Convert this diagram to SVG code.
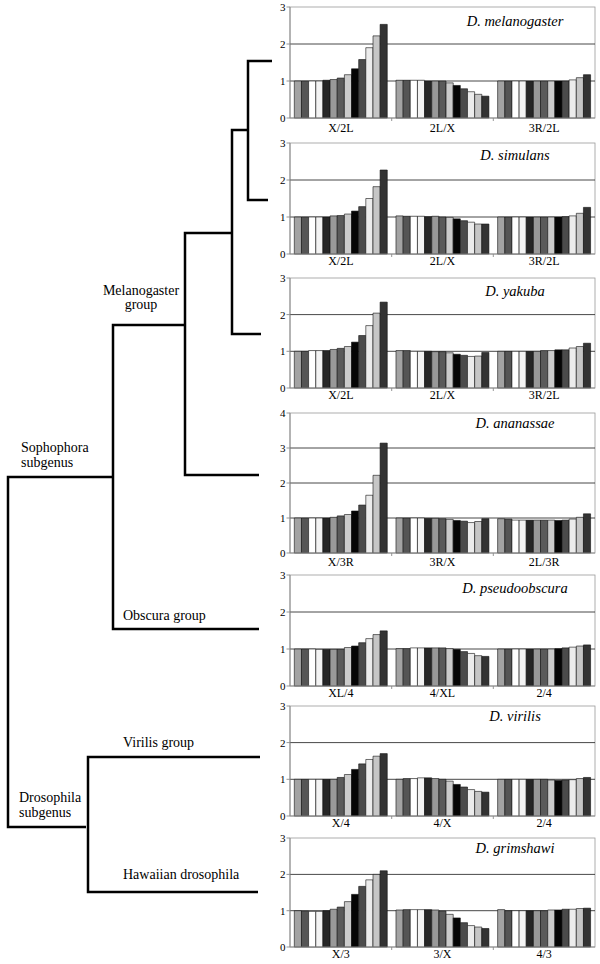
<svg xmlns="http://www.w3.org/2000/svg" width="600" height="964" viewBox="0 0 600 964" font-family="'Liberation Serif', 'DejaVu Serif', 'Times New Roman', serif">
<style>
text{font-family:"Liberation Serif","DejaVu Serif","Times New Roman",serif;fill:#000}
.lbl{font-size:14px}
.tick{font-size:11px;text-anchor:end}
.cat{font-size:12px;text-anchor:middle}
.title{font-size:14.5px;font-style:italic;text-anchor:middle}
.tree{fill:none;stroke:#000;stroke-width:2.5;stroke-linejoin:miter;stroke-linecap:butt}
.box{fill:#fff;stroke:#9a9a9a;stroke-width:0.8}
.grid{fill:none;stroke:#333;stroke-width:0.9}
.axis{fill:none;stroke:#8a8a8a;stroke-width:0.9}
.bars rect{stroke:#111;stroke-width:0.6;vector-effect:non-scaling-stroke}
.f1{fill:#a3a3a3}.f2{fill:#555}.f3{fill:#fff}.f4{fill:#f3f3f3}.f5{fill:#262626}.f6{fill:#999}.f7{fill:#5a5a5a}.f8{fill:#cbcbcb}.f9{fill:#050505}.f10{fill:#4b4b4b}.f11{fill:#ececec}.f12{fill:#c6c6c6}.f13{fill:#333}
</style>

<g id="connectors">
<path class="tree" d="M272,61H248V200H268"/>
<path class="tree" d="M248,130H232V334H261"/>
<path class="tree" d="M232,233H185V475H259"/>
<path class="tree" d="M185,325H113V629H259"/>
<path class="tree" d="M113,477H8V827H86"/>
<path class="tree" d="M260,757H88V892H258"/>
</g>

<g id="node-melanogaster-group"><text class="lbl" x="141" y="295" text-anchor="middle">Melanogaster</text><text class="lbl" x="141" y="309" text-anchor="middle">group</text></g>
<g id="node-sophophora"><text class="lbl" x="21" y="452">Sophophora</text><text class="lbl" x="21" y="467">subgenus</text></g>
<g id="node-obscura"><text class="lbl" x="123" y="620">Obscura group</text></g>
<g id="node-virilis-group"><text class="lbl" x="123" y="747">Virilis group</text></g>
<g id="node-drosophila"><text class="lbl" x="19" y="802">Drosophila</text><text class="lbl" x="19" y="817">subgenus</text></g>
<g id="node-hawaiian"><text class="lbl" x="123" y="879">Hawaiian drosophila</text></g>

<!-- Panel 1 -->
<g id="panel-melanogaster">
<rect class="box" x="290" y="7" width="305" height="111"/>
<path class="grid" d="M290,81H595M290,44H595"/>
<g class="bars" transform="translate(290,118) scale(1,-37)">
<g>
<rect class="f1" x="4.3" width="7.15" height="1"/><rect class="f2" x="11.5" width="7.15" height="1"/><rect class="f3" x="18.6" width="7.15" height="1"/><rect class="f4" x="25.8" width="7.15" height="1"/><rect class="f5" x="32.9" width="7.15" height="1.02"/><rect class="f6" x="40.1" width="7.15" height="1.04"/><rect class="f7" x="47.2" width="7.15" height="1.08"/><rect class="f8" x="54.4" width="7.15" height="1.17"/><rect class="f9" x="61.5" width="7.15" height="1.33"/><rect class="f10" x="68.7" width="7.15" height="1.58"/><rect class="f11" x="75.8" width="7.15" height="1.9"/><rect class="f12" x="83" width="7.15" height="2.22"/><rect class="f13" x="90.1" width="7.15" height="2.53"/>
</g>
<g transform="translate(101.67,0)">
<rect class="f1" x="4.3" width="7.15" height="1.02"/><rect class="f2" x="11.5" width="7.15" height="1.02"/><rect class="f3" x="18.6" width="7.15" height="1.02"/><rect class="f4" x="25.8" width="7.15" height="1.02"/><rect class="f5" x="32.9" width="7.15" height="1"/><rect class="f6" x="40.1" width="7.15" height="1"/><rect class="f7" x="47.2" width="7.15" height="1"/><rect class="f8" x="54.4" width="7.15" height="0.95"/><rect class="f9" x="61.5" width="7.15" height="0.88"/><rect class="f10" x="68.7" width="7.15" height="0.79"/><rect class="f11" x="75.8" width="7.15" height="0.71"/><rect class="f12" x="83" width="7.15" height="0.64"/><rect class="f13" x="90.1" width="7.15" height="0.59"/>
</g>
<g transform="translate(203.33,0)">
<rect class="f1" x="4.3" width="7.15" height="1"/><rect class="f2" x="11.5" width="7.15" height="1"/><rect class="f3" x="18.6" width="7.15" height="1"/><rect class="f4" x="25.8" width="7.15" height="1"/><rect class="f5" x="32.9" width="7.15" height="1"/><rect class="f6" x="40.1" width="7.15" height="1"/><rect class="f7" x="47.2" width="7.15" height="1"/><rect class="f8" x="54.4" width="7.15" height="1"/><rect class="f9" x="61.5" width="7.15" height="1"/><rect class="f10" x="68.7" width="7.15" height="1"/><rect class="f11" x="75.8" width="7.15" height="1.03"/><rect class="f12" x="83" width="7.15" height="1.09"/><rect class="f13" x="90.1" width="7.15" height="1.17"/>
</g>
</g>
<path class="axis" d="M290,7V118H595M286.5,7H290M286.5,44H290M286.5,81H290M286.5,118H290M391.7,118v3M493.3,118v3"/>
<text class="tick" x="285.5" y="11">3</text><text class="tick" x="285.5" y="48">2</text><text class="tick" x="285.5" y="85">1</text><text class="tick" x="285.5" y="122">0</text>
<text class="cat" x="340.8" y="131.5">X/2L</text><text class="cat" x="442.5" y="131.5">2L/X</text><text class="cat" x="544.2" y="131.5">3R/2L</text>
<text class="title" x="515" y="26">D. melanogaster</text>
</g>

<!-- Panel 2 -->
<g id="panel-simulans">
<rect class="box" x="290" y="143" width="305" height="111"/>
<path class="grid" d="M290,217H595M290,180H595"/>
<g class="bars" transform="translate(290,254) scale(1,-37)">
<g>
<rect class="f1" x="4.3" width="7.15" height="1"/><rect class="f2" x="11.5" width="7.15" height="1"/><rect class="f3" x="18.6" width="7.15" height="1"/><rect class="f4" x="25.8" width="7.15" height="1"/><rect class="f5" x="32.9" width="7.15" height="1"/><rect class="f6" x="40.1" width="7.15" height="1.03"/><rect class="f7" x="47.2" width="7.15" height="1.04"/><rect class="f8" x="54.4" width="7.15" height="1.08"/><rect class="f9" x="61.5" width="7.15" height="1.16"/><rect class="f10" x="68.7" width="7.15" height="1.28"/><rect class="f11" x="75.8" width="7.15" height="1.5"/><rect class="f12" x="83" width="7.15" height="1.82"/><rect class="f13" x="90.1" width="7.15" height="2.27"/>
</g>
<g transform="translate(101.67,0)">
<rect class="f1" x="4.3" width="7.15" height="1.03"/><rect class="f2" x="11.5" width="7.15" height="1.02"/><rect class="f3" x="18.6" width="7.15" height="1.02"/><rect class="f4" x="25.8" width="7.15" height="1.02"/><rect class="f5" x="32.9" width="7.15" height="1.01"/><rect class="f6" x="40.1" width="7.15" height="1.02"/><rect class="f7" x="47.2" width="7.15" height="1"/><rect class="f8" x="54.4" width="7.15" height="0.99"/><rect class="f9" x="61.5" width="7.15" height="0.95"/><rect class="f10" x="68.7" width="7.15" height="0.9"/><rect class="f11" x="75.8" width="7.15" height="0.86"/><rect class="f12" x="83" width="7.15" height="0.81"/><rect class="f13" x="90.1" width="7.15" height="0.81"/>
</g>
<g transform="translate(203.33,0)">
<rect class="f1" x="4.3" width="7.15" height="1"/><rect class="f2" x="11.5" width="7.15" height="1"/><rect class="f3" x="18.6" width="7.15" height="1"/><rect class="f4" x="25.8" width="7.15" height="1"/><rect class="f5" x="32.9" width="7.15" height="1"/><rect class="f6" x="40.1" width="7.15" height="1"/><rect class="f7" x="47.2" width="7.15" height="1"/><rect class="f8" x="54.4" width="7.15" height="1"/><rect class="f9" x="61.5" width="7.15" height="1"/><rect class="f10" x="68.7" width="7.15" height="1.01"/><rect class="f11" x="75.8" width="7.15" height="1.03"/><rect class="f12" x="83" width="7.15" height="1.1"/><rect class="f13" x="90.1" width="7.15" height="1.26"/>
</g>
</g>
<path class="axis" d="M290,143V254H595M286.5,143H290M286.5,180H290M286.5,217H290M286.5,254H290M391.7,254v3M493.3,254v3"/>
<text class="tick" x="285.5" y="147">3</text><text class="tick" x="285.5" y="184">2</text><text class="tick" x="285.5" y="221">1</text><text class="tick" x="285.5" y="258">0</text>
<text class="cat" x="340.8" y="264.5">X/2L</text><text class="cat" x="442.5" y="264.5">2L/X</text><text class="cat" x="544.2" y="264.5">3R/2L</text>
<text class="title" x="515" y="160">D. simulans</text>
</g>

<!-- Panel 3 -->
<g id="panel-yakuba">
<rect class="box" x="290" y="278" width="305" height="110"/>
<path class="grid" d="M290,351.3H595M290,314.6H595"/>
<g class="bars" transform="translate(290,388) scale(1,-36.7)">
<g>
<rect class="f1" x="4.3" width="7.15" height="1"/><rect class="f2" x="11.5" width="7.15" height="1"/><rect class="f3" x="18.6" width="7.15" height="1.02"/><rect class="f4" x="25.8" width="7.15" height="1.02"/><rect class="f5" x="32.9" width="7.15" height="1.02"/><rect class="f6" x="40.1" width="7.15" height="1.05"/><rect class="f7" x="47.2" width="7.15" height="1.08"/><rect class="f8" x="54.4" width="7.15" height="1.13"/><rect class="f9" x="61.5" width="7.15" height="1.25"/><rect class="f10" x="68.7" width="7.15" height="1.43"/><rect class="f11" x="75.8" width="7.15" height="1.7"/><rect class="f12" x="83" width="7.15" height="2.04"/><rect class="f13" x="90.1" width="7.15" height="2.34"/>
</g>
<g transform="translate(101.67,0)">
<rect class="f1" x="4.3" width="7.15" height="1.02"/><rect class="f2" x="11.5" width="7.15" height="1.02"/><rect class="f3" x="18.6" width="7.15" height="1"/><rect class="f4" x="25.8" width="7.15" height="1"/><rect class="f5" x="32.9" width="7.15" height="1"/><rect class="f6" x="40.1" width="7.15" height="0.99"/><rect class="f7" x="47.2" width="7.15" height="0.99"/><rect class="f8" x="54.4" width="7.15" height="0.96"/><rect class="f9" x="61.5" width="7.15" height="0.92"/><rect class="f10" x="68.7" width="7.15" height="0.89"/><rect class="f11" x="75.8" width="7.15" height="0.86"/><rect class="f12" x="83" width="7.15" height="0.87"/><rect class="f13" x="90.1" width="7.15" height="0.97"/>
</g>
<g transform="translate(203.33,0)">
<rect class="f1" x="4.3" width="7.15" height="1"/><rect class="f2" x="11.5" width="7.15" height="1"/><rect class="f3" x="18.6" width="7.15" height="1"/><rect class="f4" x="25.8" width="7.15" height="1"/><rect class="f5" x="32.9" width="7.15" height="1"/><rect class="f6" x="40.1" width="7.15" height="1"/><rect class="f7" x="47.2" width="7.15" height="1.02"/><rect class="f8" x="54.4" width="7.15" height="1.02"/><rect class="f9" x="61.5" width="7.15" height="1.04"/><rect class="f10" x="68.7" width="7.15" height="1.04"/><rect class="f11" x="75.8" width="7.15" height="1.09"/><rect class="f12" x="83" width="7.15" height="1.13"/><rect class="f13" x="90.1" width="7.15" height="1.22"/>
</g>
</g>
<path class="axis" d="M290,278V388H595M286.5,278H290M286.5,314.6H290M286.5,351.3H290M286.5,388H290M391.7,388v3M493.3,388v3"/>
<text class="tick" x="285.5" y="282">3</text><text class="tick" x="285.5" y="318.6">2</text><text class="tick" x="285.5" y="355.3">1</text><text class="tick" x="285.5" y="392">0</text>
<text class="cat" x="340.8" y="398.5">X/2L</text><text class="cat" x="442.5" y="398.5">2L/X</text><text class="cat" x="544.2" y="398.5">3R/2L</text>
<text class="title" x="515" y="296">D. yakuba</text>
</g>

<!-- Panel 4 -->
<g id="panel-ananassae">
<rect class="box" x="290" y="413" width="305" height="140"/>
<path class="grid" d="M290,518H595M290,483H595M290,448H595"/>
<g class="bars" transform="translate(290,553) scale(1,-35)">
<g>
<rect class="f1" x="4.3" width="7.15" height="1"/><rect class="f2" x="11.5" width="7.15" height="1"/><rect class="f3" x="18.6" width="7.15" height="1"/><rect class="f4" x="25.8" width="7.15" height="1"/><rect class="f5" x="32.9" width="7.15" height="1"/><rect class="f6" x="40.1" width="7.15" height="1.02"/><rect class="f7" x="47.2" width="7.15" height="1.06"/><rect class="f8" x="54.4" width="7.15" height="1.1"/><rect class="f9" x="61.5" width="7.15" height="1.2"/><rect class="f10" x="68.7" width="7.15" height="1.37"/><rect class="f11" x="75.8" width="7.15" height="1.65"/><rect class="f12" x="83" width="7.15" height="2.22"/><rect class="f13" x="90.1" width="7.15" height="3.14"/>
</g>
<g transform="translate(101.67,0)">
<rect class="f1" x="4.3" width="7.15" height="1"/><rect class="f2" x="11.5" width="7.15" height="1"/><rect class="f3" x="18.6" width="7.15" height="1"/><rect class="f4" x="25.8" width="7.15" height="1"/><rect class="f5" x="32.9" width="7.15" height="0.99"/><rect class="f6" x="40.1" width="7.15" height="0.99"/><rect class="f7" x="47.2" width="7.15" height="0.98"/><rect class="f8" x="54.4" width="7.15" height="0.96"/><rect class="f9" x="61.5" width="7.15" height="0.93"/><rect class="f10" x="68.7" width="7.15" height="0.91"/><rect class="f11" x="75.8" width="7.15" height="0.87"/><rect class="f12" x="83" width="7.15" height="0.9"/><rect class="f13" x="90.1" width="7.15" height="0.98"/>
</g>
<g transform="translate(203.33,0)">
<rect class="f1" x="4.3" width="7.15" height="0.98"/><rect class="f2" x="11.5" width="7.15" height="0.97"/><rect class="f3" x="18.6" width="7.15" height="0.94"/><rect class="f4" x="25.8" width="7.15" height="0.94"/><rect class="f5" x="32.9" width="7.15" height="0.94"/><rect class="f6" x="40.1" width="7.15" height="0.94"/><rect class="f7" x="47.2" width="7.15" height="0.94"/><rect class="f8" x="54.4" width="7.15" height="0.94"/><rect class="f9" x="61.5" width="7.15" height="0.93"/><rect class="f10" x="68.7" width="7.15" height="0.94"/><rect class="f11" x="75.8" width="7.15" height="0.97"/><rect class="f12" x="83" width="7.15" height="1.02"/><rect class="f13" x="90.1" width="7.15" height="1.12"/>
</g>
</g>
<path class="axis" d="M290,413V553H595M286.5,413H290M286.5,448H290M286.5,483H290M286.5,518H290M286.5,553H290M391.7,553v3M493.3,553v3"/>
<text class="tick" x="285.5" y="417">4</text><text class="tick" x="285.5" y="452">3</text><text class="tick" x="285.5" y="487">2</text><text class="tick" x="285.5" y="522">1</text><text class="tick" x="285.5" y="557">0</text>
<text class="cat" x="340.8" y="566">X/3R</text><text class="cat" x="442.5" y="566">3R/X</text><text class="cat" x="544.2" y="566">2L/3R</text>
<text class="title" x="515" y="428">D. ananassae</text>
</g>

<!-- Panel 5 -->
<g id="panel-pseudoobscura">
<rect class="box" x="290" y="575" width="305" height="111"/>
<path class="grid" d="M290,649H595M290,612H595"/>
<g class="bars" transform="translate(290,686) scale(1,-37)">
<g>
<rect class="f1" x="4.3" width="7.15" height="1"/><rect class="f2" x="11.5" width="7.15" height="1"/><rect class="f3" x="18.6" width="7.15" height="1"/><rect class="f4" x="25.8" width="7.15" height="0.99"/><rect class="f5" x="32.9" width="7.15" height="0.99"/><rect class="f6" x="40.1" width="7.15" height="0.99"/><rect class="f7" x="47.2" width="7.15" height="0.99"/><rect class="f8" x="54.4" width="7.15" height="1.04"/><rect class="f9" x="61.5" width="7.15" height="1.08"/><rect class="f10" x="68.7" width="7.15" height="1.17"/><rect class="f11" x="75.8" width="7.15" height="1.28"/><rect class="f12" x="83" width="7.15" height="1.39"/><rect class="f13" x="90.1" width="7.15" height="1.49"/>
</g>
<g transform="translate(101.67,0)">
<rect class="f1" x="4.3" width="7.15" height="1.01"/><rect class="f2" x="11.5" width="7.15" height="1.01"/><rect class="f3" x="18.6" width="7.15" height="1.03"/><rect class="f4" x="25.8" width="7.15" height="1.03"/><rect class="f5" x="32.9" width="7.15" height="1.03"/><rect class="f6" x="40.1" width="7.15" height="1.03"/><rect class="f7" x="47.2" width="7.15" height="1.03"/><rect class="f8" x="54.4" width="7.15" height="1.01"/><rect class="f9" x="61.5" width="7.15" height="0.99"/><rect class="f10" x="68.7" width="7.15" height="0.93"/><rect class="f11" x="75.8" width="7.15" height="0.88"/><rect class="f12" x="83" width="7.15" height="0.82"/><rect class="f13" x="90.1" width="7.15" height="0.8"/>
</g>
<g transform="translate(203.33,0)">
<rect class="f1" x="4.3" width="7.15" height="1"/><rect class="f2" x="11.5" width="7.15" height="1"/><rect class="f3" x="18.6" width="7.15" height="1"/><rect class="f4" x="25.8" width="7.15" height="1"/><rect class="f5" x="32.9" width="7.15" height="1"/><rect class="f6" x="40.1" width="7.15" height="1"/><rect class="f7" x="47.2" width="7.15" height="1"/><rect class="f8" x="54.4" width="7.15" height="1"/><rect class="f9" x="61.5" width="7.15" height="1.01"/><rect class="f10" x="68.7" width="7.15" height="1.03"/><rect class="f11" x="75.8" width="7.15" height="1.05"/><rect class="f12" x="83" width="7.15" height="1.08"/><rect class="f13" x="90.1" width="7.15" height="1.11"/>
</g>
</g>
<path class="axis" d="M290,575V686H595M286.5,575H290M286.5,612H290M286.5,649H290M286.5,686H290M391.7,686v3M493.3,686v3"/>
<text class="tick" x="285.5" y="579">3</text><text class="tick" x="285.5" y="616">2</text><text class="tick" x="285.5" y="653">1</text><text class="tick" x="285.5" y="690">0</text>
<text class="cat" x="340.8" y="697">XL/4</text><text class="cat" x="442.5" y="697">4/XL</text><text class="cat" x="544.2" y="697">2/4</text>
<text class="title" x="515" y="593">D. pseudoobscura</text>
</g>

<!-- Panel 6 -->
<g id="panel-virilis">
<rect class="box" x="290" y="706" width="305" height="110"/>
<path class="grid" d="M290,779.3H595M290,742.6H595"/>
<g class="bars" transform="translate(290,816) scale(1,-36.7)">
<g>
<rect class="f1" x="4.3" width="7.15" height="1"/><rect class="f2" x="11.5" width="7.15" height="1"/><rect class="f3" x="18.6" width="7.15" height="1"/><rect class="f4" x="25.8" width="7.15" height="1"/><rect class="f5" x="32.9" width="7.15" height="1"/><rect class="f6" x="40.1" width="7.15" height="1"/><rect class="f7" x="47.2" width="7.15" height="1.05"/><rect class="f8" x="54.4" width="7.15" height="1.13"/><rect class="f9" x="61.5" width="7.15" height="1.27"/><rect class="f10" x="68.7" width="7.15" height="1.42"/><rect class="f11" x="75.8" width="7.15" height="1.54"/><rect class="f12" x="83" width="7.15" height="1.63"/><rect class="f13" x="90.1" width="7.15" height="1.7"/>
</g>
<g transform="translate(101.67,0)">
<rect class="f1" x="4.3" width="7.15" height="1"/><rect class="f2" x="11.5" width="7.15" height="1.02"/><rect class="f3" x="18.6" width="7.15" height="1.02"/><rect class="f4" x="25.8" width="7.15" height="1.04"/><rect class="f5" x="32.9" width="7.15" height="1.04"/><rect class="f6" x="40.1" width="7.15" height="1.02"/><rect class="f7" x="47.2" width="7.15" height="1"/><rect class="f8" x="54.4" width="7.15" height="0.95"/><rect class="f9" x="61.5" width="7.15" height="0.86"/><rect class="f10" x="68.7" width="7.15" height="0.79"/><rect class="f11" x="75.8" width="7.15" height="0.72"/><rect class="f12" x="83" width="7.15" height="0.67"/><rect class="f13" x="90.1" width="7.15" height="0.65"/>
</g>
<g transform="translate(203.33,0)">
<rect class="f1" x="4.3" width="7.15" height="1"/><rect class="f2" x="11.5" width="7.15" height="1"/><rect class="f3" x="18.6" width="7.15" height="1"/><rect class="f4" x="25.8" width="7.15" height="1"/><rect class="f5" x="32.9" width="7.15" height="1"/><rect class="f6" x="40.1" width="7.15" height="1"/><rect class="f7" x="47.2" width="7.15" height="1"/><rect class="f8" x="54.4" width="7.15" height="0.98"/><rect class="f9" x="61.5" width="7.15" height="0.97"/><rect class="f10" x="68.7" width="7.15" height="0.98"/><rect class="f11" x="75.8" width="7.15" height="0.99"/><rect class="f12" x="83" width="7.15" height="1.02"/><rect class="f13" x="90.1" width="7.15" height="1.05"/>
</g>
</g>
<path class="axis" d="M290,706V816H595M286.5,706H290M286.5,742.6H290M286.5,779.3H290M286.5,816H290M391.7,816v3M493.3,816v3"/>
<text class="tick" x="285.5" y="710">3</text><text class="tick" x="285.5" y="746.6">2</text><text class="tick" x="285.5" y="783.3">1</text><text class="tick" x="285.5" y="820">0</text>
<text class="cat" x="340.8" y="827">X/4</text><text class="cat" x="442.5" y="827">4/X</text><text class="cat" x="544.2" y="827">2/4</text>
<text class="title" x="515" y="721">D. virilis</text>
</g>

<!-- Panel 7 -->
<g id="panel-grimshawi">
<rect class="box" x="290" y="838" width="305" height="109"/>
<path class="grid" d="M290,910.7H595M290,874.4H595"/>
<g class="bars" transform="translate(290,947) scale(1,-36.3)">
<g>
<rect class="f1" x="4.3" width="7.15" height="1"/><rect class="f2" x="11.5" width="7.15" height="0.99"/><rect class="f3" x="18.6" width="7.15" height="0.98"/><rect class="f4" x="25.8" width="7.15" height="0.98"/><rect class="f5" x="32.9" width="7.15" height="1"/><rect class="f6" x="40.1" width="7.15" height="1.04"/><rect class="f7" x="47.2" width="7.15" height="1.1"/><rect class="f8" x="54.4" width="7.15" height="1.25"/><rect class="f9" x="61.5" width="7.15" height="1.45"/><rect class="f10" x="68.7" width="7.15" height="1.67"/><rect class="f11" x="75.8" width="7.15" height="1.85"/><rect class="f12" x="83" width="7.15" height="2"/><rect class="f13" x="90.1" width="7.15" height="2.1"/>
</g>
<g transform="translate(101.67,0)">
<rect class="f1" x="4.3" width="7.15" height="1.02"/><rect class="f2" x="11.5" width="7.15" height="1.03"/><rect class="f3" x="18.6" width="7.15" height="1.03"/><rect class="f4" x="25.8" width="7.15" height="1.03"/><rect class="f5" x="32.9" width="7.15" height="1.03"/><rect class="f6" x="40.1" width="7.15" height="1.02"/><rect class="f7" x="47.2" width="7.15" height="0.99"/><rect class="f8" x="54.4" width="7.15" height="0.9"/><rect class="f9" x="61.5" width="7.15" height="0.8"/><rect class="f10" x="68.7" width="7.15" height="0.67"/><rect class="f11" x="75.8" width="7.15" height="0.59"/><rect class="f12" x="83" width="7.15" height="0.55"/><rect class="f13" x="90.1" width="7.15" height="0.51"/>
</g>
<g transform="translate(203.33,0)">
<rect class="f1" x="4.3" width="7.15" height="1.03"/><rect class="f2" x="11.5" width="7.15" height="1"/><rect class="f3" x="18.6" width="7.15" height="1"/><rect class="f4" x="25.8" width="7.15" height="1"/><rect class="f5" x="32.9" width="7.15" height="1"/><rect class="f6" x="40.1" width="7.15" height="1"/><rect class="f7" x="47.2" width="7.15" height="1"/><rect class="f8" x="54.4" width="7.15" height="1.02"/><rect class="f9" x="61.5" width="7.15" height="1.02"/><rect class="f10" x="68.7" width="7.15" height="1.04"/><rect class="f11" x="75.8" width="7.15" height="1.04"/><rect class="f12" x="83" width="7.15" height="1.06"/><rect class="f13" x="90.1" width="7.15" height="1.07"/>
</g>
</g>
<path class="axis" d="M290,838V947H595M286.5,838H290M286.5,874.4H290M286.5,910.7H290M286.5,947H290M391.7,947v3M493.3,947v3"/>
<text class="tick" x="285.5" y="842">3</text><text class="tick" x="285.5" y="878.4">2</text><text class="tick" x="285.5" y="914.7">1</text><text class="tick" x="285.5" y="951">0</text>
<text class="cat" x="340.8" y="958">X/3</text><text class="cat" x="442.5" y="958">3/X</text><text class="cat" x="544.2" y="958">4/3</text>
<text class="title" x="515" y="853">D. grimshawi</text>
</g>
</svg>
